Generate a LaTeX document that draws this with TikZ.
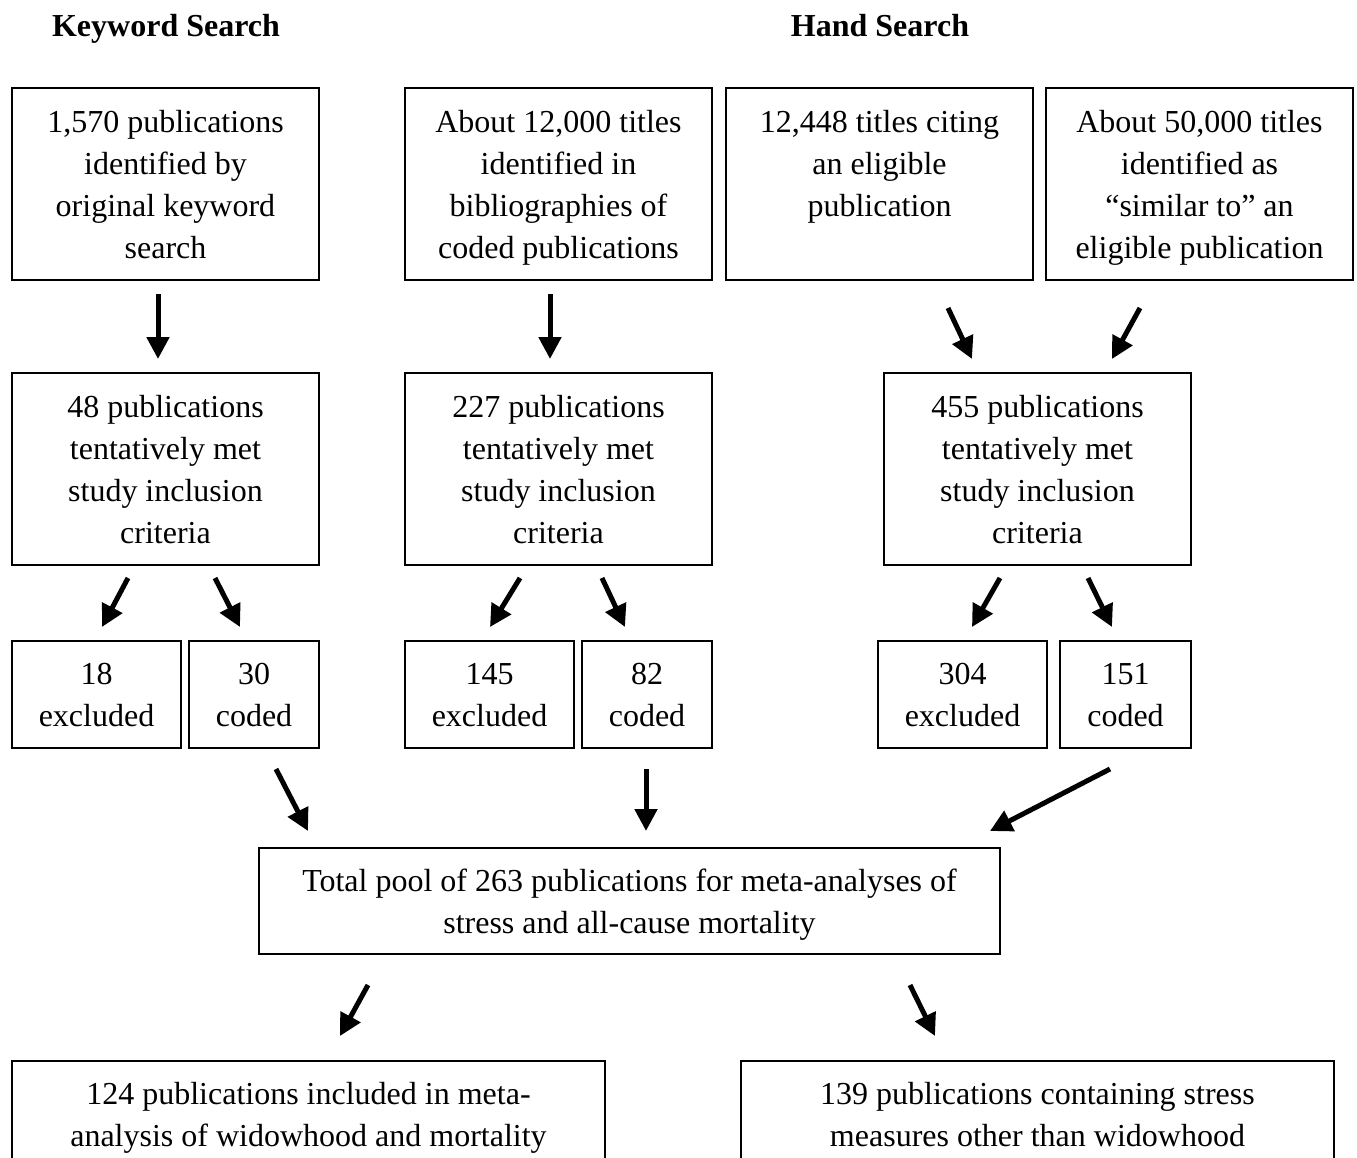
\documentclass[tikz,border=0pt]{standalone}
\usepackage{fontspec}
\setmainfont{Liberation Serif}
\usetikzlibrary{arrows.meta,calc}
\newcommand{\tp}{\rule{0pt}{15pt}}
\newcommand{\bt}{\rule[-4pt]{0pt}{4pt}}
\tikzset{
  box/.style={draw, line width=1pt, inner sep=0pt, align=center, font=\fontsize{16}{21}\selectfont},
  bigbox/.style={box, minimum width=153.5pt, minimum height=96pt},
  head/.style={anchor=base, font=\fontsize{16}{21}\selectfont\bfseries},
  arr/.style={line width=2.5pt, -{Triangle[length=11pt,width=11pt]}}
}
\begin{document}
\begin{tikzpicture}[x=0.5pt,y=-0.5pt]
\useasboundingbox (0,0) rectangle (1357,1158);
\clip (0,0) rectangle (1357,1158);
% headers
\node[head] (hk) at (166,36) {Keyword Search};
\node[head] (hh) at (880,36) {Hand Search};
% row 1
\node[bigbox] (A) at (165.5,184) {\tp 1,570 publications\\identified by\\original keyword\\search\bt};
\node[bigbox] (B) at (558.5,184) {\tp About 12,000 titles\\identified in\\bibliographies of\\coded publications\bt};
\node[bigbox] (C) at (879.5,184) {\tp 12,448 titles citing\\an eligible\\publication\\\mbox{}\bt};
\node[bigbox] (D) at (1199.5,184) {\tp About 50,000 titles\\identified as\\“similar to” an\\eligible publication\bt};
% row 2
\node[bigbox] (A2) at (165.5,469) {\tp 48 publications\\tentatively met\\study inclusion\\criteria\bt};
\node[bigbox] (B2) at (558.5,469) {\tp 227 publications\\tentatively met\\study inclusion\\criteria\bt};
\node[bigbox] (C2) at (1037.5,469) {\tp 455 publications\\tentatively met\\study inclusion\\criteria\bt};
% row 3
\node[box, minimum width=84.5pt, minimum height=53.5pt] (E1) at (96.5,694.5) {\tp 18\\excluded\bt};
\node[box, minimum width=65pt, minimum height=53.5pt] (K1) at (254,694.5) {\tp 30\\coded\bt};
\node[box, minimum width=84.5pt, minimum height=53.5pt] (E2) at (489.5,694.5) {\tp 145\\excluded\bt};
\node[box, minimum width=65pt, minimum height=53.5pt] (K2) at (647,694.5) {\tp 82\\coded\bt};
\node[box, minimum width=84.5pt, minimum height=53.5pt] (E3) at (962.5,694.5) {\tp 304\\excluded\bt};
\node[box, minimum width=65.5pt, minimum height=53.5pt] (K3) at (1125.5,694.5) {\tp 151\\coded\bt};
% total
\node[box, minimum width=370.5pt, minimum height=53pt] (T) at (629.5,901) {\tp Total pool of 263 publications for meta-analyses of\\stress and all-cause mortality\bt};
% bottom
\node[box, minimum width=296.5pt, minimum height=53.5pt] (W) at (308.5,1114.5) {\tp 124 publications included in meta-\\analysis of widowhood and mortality\bt};
\node[box, minimum width=296.5pt, minimum height=53.5pt] (O) at (1037.5,1114.5) {\tp 139 publications containing stress\\measures other than widowhood\bt};
% arrows
\draw[arr] ($(A.south)+(-7.5,13)$) -- ($(A2.north)+(-7.5,-13)$);
\draw[arr] ($(B.south)+(-8.5,13)$) -- ($(B2.north)+(-8.5,-13)$);
\draw[arr] ($(C.south)+(68.5,27)$) -- ($(C2.north)+(-65.5,-13)$);
\draw[arr] ($(D.south)+(-59.5,27)$) -- ($(C2.north)+(74.5,-13)$);
\draw[arr] ($(A2.south)+(-37.5,12)$) -- ($(E1.north)+(5.5,-13)$);
\draw[arr] ($(A2.south)+(49.5,12)$) -- ($(K1.north)+(-14,-13)$);
\draw[arr] ($(B2.south)+(-38.5,12)$) -- ($(E2.north)+(0.5,-13)$);
\draw[arr] ($(B2.south)+(43.5,12)$) -- ($(K2.north)+(-22,-13)$);
\draw[arr] ($(C2.south)+(-37.5,12)$) -- ($(E3.north)+(9.5,-13)$);
\draw[arr] ($(C2.south)+(50.5,12)$) -- ($(K3.north)+(-13.5,-13)$);
\draw[arr] ($(K1.south)+(22,20)$) -- ($(T.north)+(-321.5,-16)$);
\draw[arr] ($(K2.south)+(-1,20)$) -- ($(T.north)+(16.5,-16)$);
\draw[arr] ($(K3.south)+(-15.5,20)$) -- ($(T.north)+(360.5,-16)$);
\draw[arr] ($(T.south)+(-261.5,30)$) -- ($(W.north)+(31.5,-24)$);
\draw[arr] ($(T.south)+(280.5,30)$) -- ($(O.north)+(-102.5,-24)$);
\end{tikzpicture}
\end{document}
